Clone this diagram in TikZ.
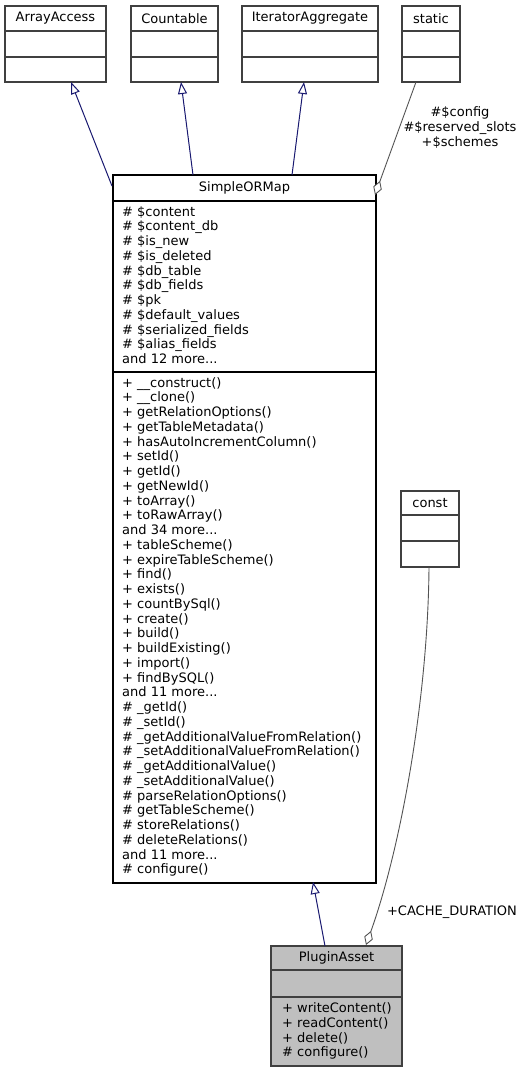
\documentclass[tikz,border=0pt]{standalone}
\usepackage{fontspec}
\setmainfont{DejaVu Sans}
\usetikzlibrary{arrows.meta}
\definecolor{edgeblue}{HTML}{191970}
\definecolor{boxgray}{HTML}{404040}
\definecolor{fillgray}{HTML}{BFBFBF}
\tikzset{
  umlbox/.style={draw=boxgray, line width=1.2pt, fill=white, inner sep=0pt, outer sep=0pt, anchor=north west},
  cls/.style={font=\fontsize{13}{14.75}\selectfont, inner sep=0pt},
  members/.style={font=\fontsize{13}{14.75}\selectfont, inner sep=0pt, align=left, anchor=north west},
  inherit/.style={draw=edgeblue, line width=1pt, -{Triangle[open, length=12pt, width=9pt, fill=white]}},
  aggr/.style={draw=boxgray!90, line width=0.9pt, {Diamond[open, length=15pt, width=9pt, fill=white]}-},
  lbl/.style={font=\fontsize{13}{15}\selectfont, inner sep=0pt, align=center}
}
\begin{document}
\begin{tikzpicture}[x=1pt,y=-1pt]
\useasboundingbox (0,0) rectangle (529,1072);

% ---- top interface boxes ----
\node[umlbox, minimum width=101pt, minimum height=76pt] (aa) at (5,6) {};
\draw[boxgray, line width=1.2pt] (5,31) -- (106,31) (5,57) -- (106,57);
\node[cls] (aat) at (55.5,18.5) {ArrayAccess};

\node[umlbox, minimum width=87pt, minimum height=76pt] (cnt) at (131,6) {};
\draw[boxgray, line width=1.2pt] (131,31) -- (218,31) (131,57) -- (218,57);
\node[cls] (cntt) at (174.5,18.5) {Countable};

\node[umlbox, minimum width=136pt, minimum height=76pt] (ia) at (242,6) {};
\draw[boxgray, line width=1.2pt] (242,31) -- (378,31) (242,57) -- (378,57);
\node[cls] (iat) at (310,18.5) {IteratorAggregate};

\node[umlbox, minimum width=58pt, minimum height=76pt] (st) at (402,6) {};
\draw[boxgray, line width=1.2pt] (402,31) -- (460,31) (402,57) -- (460,57);
\node[cls] (stt) at (431,18.5) {static};

% ---- SimpleORMap ----
\node[umlbox, draw=black, minimum width=263pt, minimum height=708pt] (som) at (113,175) {};
\draw[black, line width=1.2pt] (113,201) -- (376,201) (113,372) -- (376,372);
\node[cls] (somt) at (244.5,188) {SimpleORMap};
\node[members] (soma) at (122,206) {\# \$content\\
\# \$content\_db\\
\# \$is\_new\\
\# \$is\_deleted\\
\# \$db\_table\\
\# \$db\_fields\\
\# \$pk\\
\# \$default\_values\\
\# \$serialized\_fields\\
\# \$alias\_fields\\
and 12 more...};
\node[members] (somm) at (122,377) {+ \_\_construct()\\
+ \_\_clone()\\
+ getRelationOptions()\\
+ getTableMetadata()\\
+ hasAutoIncrementColumn()\\
+ setId()\\
+ getId()\\
+ getNewId()\\
+ toArray()\\
+ toRawArray()\\
and 34 more...\\
+ tableScheme()\\
+ expireTableScheme()\\
+ find()\\
+ exists()\\
+ countBySql()\\
+ create()\\
+ build()\\
+ buildExisting()\\
+ import()\\
+ findBySQL()\\
and 11 more...\\
\# \_getId()\\
\# \_setId()\\
\# \_getAdditionalValueFromRelation()\\
\# \_setAdditionalValueFromRelation()\\
\# \_getAdditionalValue()\\
\# \_setAdditionalValue()\\
\# parseRelationOptions()\\
\# getTableScheme()\\
\# storeRelations()\\
\# deleteRelations()\\
and 11 more...\\
\# configure()};

% ---- const ----
\node[umlbox, minimum width=58pt, minimum height=76pt] (cst) at (401,491) {};
\draw[boxgray, line width=1.2pt] (401,515) -- (459,515) (401,541) -- (459,541);
\node[cls] (cstt) at (430,503) {const};

% ---- PluginAsset ----
\node[umlbox, fill=fillgray, minimum width=131pt, minimum height=120pt] (pa) at (271,946) {};
\draw[boxgray, line width=1.2pt] (271,970) -- (402,970) (271,997) -- (402,997);
\node[cls] (pat) at (336.5,958) {PluginAsset};
\node[members] (pam) at (282,1002.5) {+ writeContent()\\
+ readContent()\\
+ delete()\\
\# configure()};

% ---- connectors ----
\coordinate (s1) at (112,186);
\coordinate (s2) at (193,175);
\coordinate (s3) at (292,175);
\coordinate (t1) at (71,82);
\coordinate (t2) at (181,82);
\coordinate (t3) at (304,82);
\draw[inherit] (s1) -- (t1);
\draw[inherit] (s2) -- (t2);
\draw[inherit] (s3) -- (t3);

\coordinate (d1) at (375,195);
\coordinate (st0) at (416,82);
\draw[aggr] (d1) -- ++(5,-14) -- (st0);

\coordinate (pb) at (325,946);
\coordinate (sb) at (313,882);
\draw[inherit] (pb) -- (sb);

\coordinate (d2) at (366,945);
\coordinate (cs0) at (429,567);
\draw[aggr] (d2) -- ++(5,-14) .. controls (400,850) and (428,700) .. (cs0);

% ---- labels ----
\node[lbl] (l1) at (460,128) {\#\$config\\ \#\$reserved\_slots\\ +\$schemes};
\node[lbl] (l2) at (452,912) {+CACHE\_DURATION};
\end{tikzpicture}
\end{document}
